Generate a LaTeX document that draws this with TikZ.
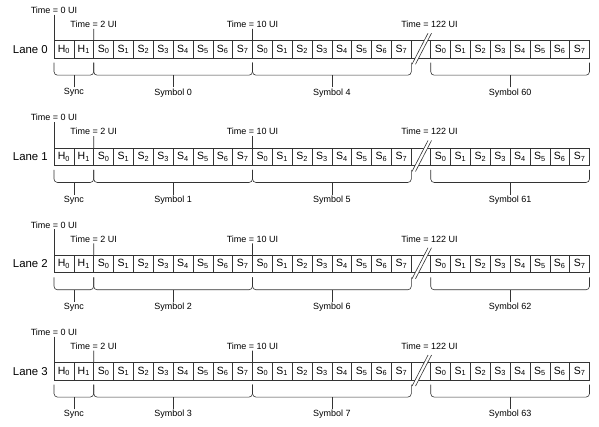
\documentclass[tikz,border=0pt]{standalone}
\usepackage{fontspec}
\setmainfont{Liberation Sans}
\usetikzlibrary{positioning,calc}
\definecolor{linecol}{HTML}{333333}

\begin{document}
\begin{tikzpicture}[x=1pt,y=-1pt,
   font=\fontsize{9}{10}\selectfont,
   cell/.style={draw=linecol,line width=0.6pt,minimum width=19.85pt,
              minimum height=17.5pt,inner sep=0pt,outer sep=0pt,
              font=\fontsize{10.5}{12}\selectfont},
   lane/.style={anchor=east,inner sep=1pt,font=\fontsize{11.4}{13}\selectfont},
   tlab/.style={inner sep=1pt},
   slab/.style={inner sep=1pt},
   brc/.style={draw=linecol,line width=0.6pt,rounded corners=3.5pt},
   tick/.style={draw=linecol,line width=0.6pt},
]
\useasboundingbox (0,0) rectangle (599,427);
\foreach \l in {0,...,3}{
  \pgfmathsetmacro{\ytop}{40.7+107.3*\l}
  \pgfmathtruncatemacro{\snb}{\l+4}
  \pgfmathtruncatemacro{\snc}{\l+60}
  % ----- lane label and cells
  \node[lane] (ln\l) at (49,\ytop+8.75) {Lane \l};
  \foreach \i in {0,1}
    \node[cell] (c\l-\i) at (63.925+19.85*\i,\ytop+8.75) {H\textsubscript{\i}};
  \foreach \i in {2,...,17}{
    \pgfmathtruncatemacro{\sn}{mod(\i-2,8)}
    \node[cell] (c\l-\i) at (63.925+19.85*\i,\ytop+8.75) {S\textsubscript{\sn}};
  }
  \foreach \i in {18,...,25}{
    \pgfmathtruncatemacro{\sn}{\i-18}
    \node[cell] (c\l-\i) at (440.625+19.85*\sn,\ytop+8.75) {S\textsubscript{\sn}};
  }
  % ----- break between the two blocks
  \draw[tick] (c\l-17.north east) -- (c\l-18.north west)
              (c\l-17.south east) -- (c\l-18.south west);
  \coordinate (sa\l) at (428,\ytop-7.5);
  \coordinate (sb\l) at (412,\ytop+23.5);
  \coordinate (sc\l) at (431.5,\ytop-7.5);
  \coordinate (sd\l) at (415.5,\ytop+23.5);
  \fill[white] (sa\l) -- (sc\l) -- (sd\l) -- (sb\l) -- cycle;
  \draw[tick] (sa\l) -- (sb\l) (sc\l) -- (sd\l);
  % ----- time marks
  \node[tlab] (ta\l) at (54,\ytop-30.5) {Time = 0 UI};
  \node[tlab] (tb\l) at (93.7,\ytop-16.4) {Time = 2 UI};
  \node[tlab] (tc\l) at (252.5,\ytop-16.4) {Time = 10 UI};
  \node[tlab] (td\l) at (429.5,\ytop-16.4) {Time = 122 UI};
  \draw[tick] (ta\l.south) -- (c\l-0.north west);
  \draw[tick] (tb\l.south) -- (c\l-2.north west);
  \draw[tick] (tc\l.south) -- (c\l-10.north west);
  % ----- braces
  \foreach \a/\b/\txt in {0/1/Sync,2/9/Symbol \l,10/17/Symbol \snb,18/25/Symbol \snc}{
    \coordinate (bb\l-\a) at ($(c\l-\b.south east)+(0,17)$);
    \draw[brc] ($(c\l-\a.south west)+(0,4.5)$) |- (bb\l-\a)
       -- ($(c\l-\b.south east)+(0,4.5)$);
    \node[slab] (s\l-\a) at ($(c\l-\a.south west)!0.5!(c\l-\b.south east)+(0,34.5)$) {\txt};
    \draw[tick] (s\l-\a.north) -- (s\l-\a.north |- bb\l-\a);
  }
}
\end{tikzpicture}
\end{document}
